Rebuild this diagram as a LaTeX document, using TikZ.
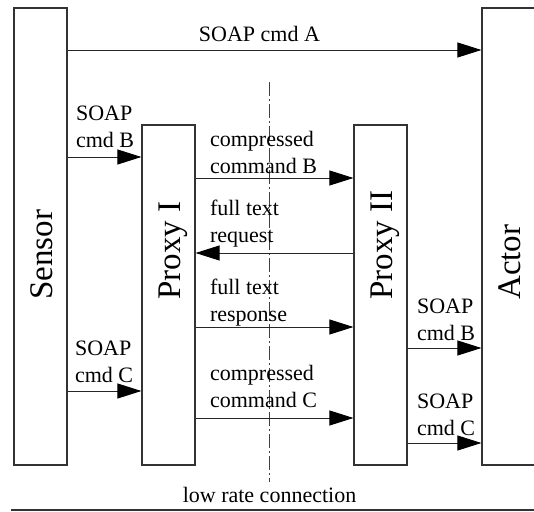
\documentclass[tikz,border=0pt]{standalone}
\usepackage{fontspec}
\setmainfont{Liberation Serif}
\usetikzlibrary{arrows.meta}
\tikzset{
  box/.style={draw=black!80, line width=1.2pt, minimum width=53pt, inner sep=0pt},
  boxlabel/.style={rotate=90, anchor=base west, inner sep=0pt, font=\fontsize{33}{40}\selectfont},
  msg/.style={draw=black!85, line width=0.9pt, -{Triangle[length=24pt,width=15pt,color=black]}},
  lbl/.style={align=left, inner sep=0pt, anchor=base west, font=\fontsize{22}{27}\selectfont},
}
\begin{document}
\begin{tikzpicture}[x=1pt,y=1pt]
    \useasboundingbox (0,0) rectangle (534,511);
    % the four parties
    \node[box, minimum height=457pt] (sensor) at (40.5,274.5) {};
    \node[box, minimum height=340pt] (proxyI) at (168.5,216) {};
    \node[box, minimum height=340pt] (proxyII) at (380.5,216) {};
    \node[box, minimum width=60pt, minimum height=457pt] (actor) at (512,274.5) {};
    \node[boxlabel] (sensortxt) at (52,211) {Sensor};
    \node[boxlabel] (proxyItxt) at (180,211) {Proxy I};
    \node[boxlabel] (proxyIItxt) at (392,211) {Proxy II};
    \node[boxlabel] (actortxt) at (520,211) {Actor};
    % low rate link
    \draw[black!75, line width=0.8pt, dash pattern=on 14pt off 3pt on 2pt off 3pt] (269,429) -- (269,29);
    \draw[black!80, line width=1.3pt] (11,1) -- (534,1);
    \node[lbl, anchor=base] (linktxt) at (269.5,9) {low rate connection};
    % messages
    \draw[msg] (sensor.east |- 0,461) -- (actor.west |- 0,461) node[lbl, anchor=base, midway, xshift=-15pt, yshift=8pt] {SOAP cmd A};
    \draw[msg] (sensor.east |- 0,354) -- (proxyI.west |- 0,354) node[lbl, pos=0, shift={(8pt,9pt)}] {SOAP\\cmd B};
    \draw[msg] (sensor.east |- 0,120) -- (proxyI.west |- 0,120) node[lbl, pos=0, shift={(7pt,9pt)}] {SOAP\\cmd C};
    \draw[msg] (proxyI.east |- 0,333) -- (proxyII.west |- 0,333) node[lbl, pos=0, shift={(14pt,4pt)}] {compressed\\command B};
    \draw[msg] (proxyII.west |- 0,258) -- (proxyI.east |- 0,258) node[lbl, pos=1, shift={(14pt,10pt)}] {full text\\request};
    \draw[msg] (proxyI.east |- 0,184) -- (proxyII.west |- 0,184) node[lbl, pos=0, shift={(14pt,5pt)}] {full text\\response};
    \draw[msg] (proxyI.east |- 0,93) -- (proxyII.west |- 0,93) node[lbl, pos=0, shift={(14pt,11pt)}] {compressed\\command C};
    \draw[msg] (proxyII.east |- 0,163) -- (actor.west |- 0,163) node[lbl, pos=0, shift={(9pt,8pt)}] {SOAP\\cmd B};
    \draw[msg] (proxyII.east |- 0,68) -- (actor.west |- 0,68) node[lbl, pos=0, shift={(9pt,8pt)}] {SOAP\\cmd C};
\end{tikzpicture}
\end{document}
